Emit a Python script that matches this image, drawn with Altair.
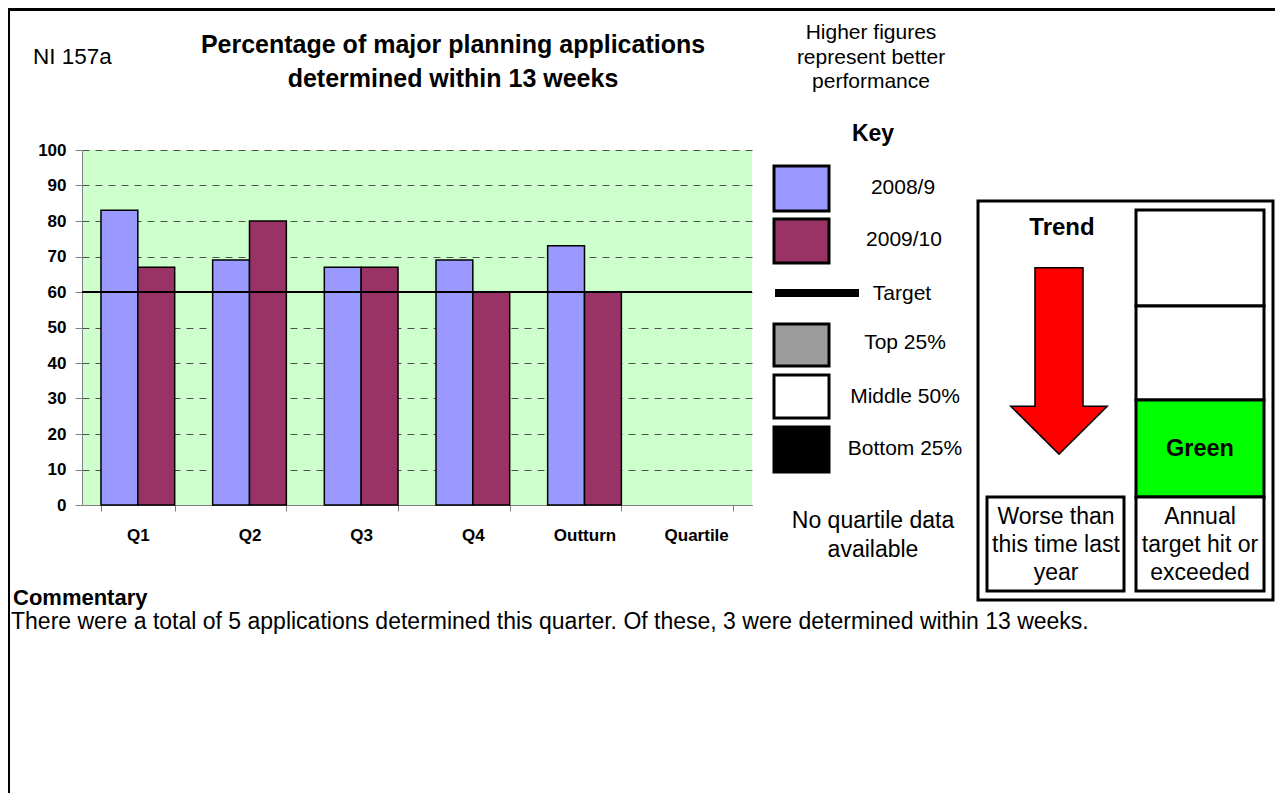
import altair as alt
import pandas as pd

# ---------------- data ----------------
categories = ["Q1", "Q2", "Q3", "Q4", "Outturn", "Quartile"]
series_names = ["2008/9", "2009/10"]
values_2008_9 = [83, 69, 67, 69, 73, None]
values_2009_10 = [67, 80, 67, 60, 60, None]
series_colors = ["#9999FF", "#993366"]
target_value = 60
y_ticks = [0, 10, 20, 30, 40, 50, 60, 70, 80, 90, 100]

rows = []
for cat, a, b in zip(categories, values_2008_9, values_2009_10):
    if a is not None:
        rows.append({"category": cat, "series": series_names[0], "value": a})
    if b is not None:
        rows.append({"category": cat, "series": series_names[1], "value": b})
bars_df = pd.DataFrame(rows)
target_df = pd.DataFrame({"value": [target_value]})

FONT = "Liberation Sans"
OX, OY = 82, 150          # page position of the plot origin
PW, PH = 670, 355         # plot area size
one = pd.DataFrame({"d": [0]})

y_scale = alt.Scale(domain=[0, 100], nice=False)
y_axis = alt.Axis(title=None, values=y_ticks, labelOverlap=False,
                  labelFont=FONT, labelFontSize=17,
                  labelFontWeight="bold", labelColor="black", labelPadding=9,
                  tickSize=7, tickColor="#808080", domainColor="#808080",
                  grid=True, gridDash=[7, 6], gridColor="#505050", gridWidth=1)

# ---------------- main bar chart ----------------
bars = alt.Chart(bars_df).mark_bar(stroke="black", strokeWidth=1.5).encode(
    x=alt.X("category:N",
            scale=alt.Scale(domain=categories, paddingInner=0.34, paddingOuter=0.17),
            axis=alt.Axis(title=None, labelAngle=0, labelFont=FONT, labelFontSize=17,
                          labelFontWeight="bold", labelColor="black", labelPadding=16,
                          tickBand="extent", tickSize=6, tickColor="#808080",
                          domainColor="#808080", grid=False)),
    xOffset=alt.XOffset("series:N", scale=alt.Scale(domain=series_names)),
    y=alt.Y("value:Q", scale=y_scale, axis=y_axis),
    color=alt.Color("series:N", scale=alt.Scale(domain=series_names, range=series_colors),
                    legend=None),
)

target_rule = alt.Chart(target_df).mark_rule(color="black", strokeWidth=2).encode(
    y=alt.Y("value:Q", scale=y_scale, axis=y_axis)
)


# ---------------- decoration helpers (page pixel positions) ----------------
def box(x1, y1, x2, y2, fill, stroke="black", sw=2.5):
    return alt.Chart(one).mark_rect(fill=fill, stroke=stroke, strokeWidth=sw).encode(
        x=alt.value(x1 - OX), x2=alt.value(x2 - OX),
        y=alt.value(y1 - OY), y2=alt.value(y2 - OY))


def txt(x, y, s, size=21, bold=False, align="center"):
    return alt.Chart(one).mark_text(
        font=FONT, fontSize=size, fontWeight="bold" if bold else "normal",
        align=align, baseline="middle", color="black").encode(
        x=alt.value(x - OX), y=alt.value(y - OY), text=alt.value(s))


deco = []
# page borders
deco.append(box(8, 8, 1275, 11, "black", stroke="black", sw=0))
deco.append(box(8, 8, 10, 799, "black", stroke="black", sw=0))

# header texts
deco.append(txt(33, 57, "NI 157a", size=22.5, align="left"))
deco.append(txt(453, 45, "Percentage of major planning applications", size=25, bold=True))
deco.append(txt(453, 79, "determined within 13 weeks", size=25, bold=True))
for yy, s in zip([33, 58, 82], ["Higher figures", "represent better", "performance"]):
    deco.append(txt(871, yy, s, size=21))

# key
deco.append(txt(873, 134, "Key", size=23, bold=True))
deco.append(box(774, 166, 829, 211, series_colors[0], sw=3))
deco.append(box(774, 219, 829, 263, series_colors[1], sw=3))
deco.append(box(775, 289, 859, 297, "black", sw=0))
deco.append(box(774, 324, 829, 366, "#9c9c9c", sw=3))
deco.append(box(774, 375, 829, 418, "white", sw=3))
deco.append(box(774, 427, 829, 472, "black", sw=3))
deco.append(txt(903, 188, "2008/9"))
deco.append(txt(904, 240, "2009/10"))
deco.append(txt(902, 294, "Target"))
deco.append(txt(905, 343, "Top 25%"))
deco.append(txt(905, 397, "Middle 50%"))
deco.append(txt(905, 449, "Bottom 25%"))
deco.append(txt(873, 521, "No quartile data", size=23))
deco.append(txt(873, 550, "available", size=23))

# trend / status panel
deco.append(box(978, 201, 1273, 600, "white", sw=3))
deco.append(box(1136, 210, 1264, 306, "white", sw=3))
deco.append(box(1136, 306, 1264, 400, "white", sw=3))
deco.append(box(1136, 400, 1264, 497, "#00FF00", sw=3))
deco.append(box(1136, 497, 1264, 591, "white", sw=3))
deco.append(box(987, 497, 1124, 591, "white", sw=3))
deco.append(txt(1062, 228, "Trend", size=24, bold=True))
deco.append(txt(1200, 449, "Green", size=23.5, bold=True))
for yy, s in zip([517, 545, 573], ["Worse than", "this time last", "year"]):
    deco.append(txt(1056, yy, s, size=23))
for yy, s in zip([517, 545, 573], ["Annual", "target hit or", "exceeded"]):
    deco.append(txt(1200, yy, s, size=23))

arrow_path = ("M -0.258 -1 L 0.258 -1 L 0.258 0.485 L 0.518 0.485 L 0 1 "
              "L -0.518 0.485 L -0.258 0.485 Z")
deco.append(alt.Chart(one).mark_point(
    shape=arrow_path, size=34700, filled=True, fill="#FF0000", stroke="black",
    strokeWidth=1.5, opacity=1, fillOpacity=1).encode(
    x=alt.value(1059 - OX), y=alt.value(361 - OY)))

# commentary
deco.append(txt(13, 598, "Commentary", size=22, bold=True, align="left"))
deco.append(txt(11, 622, "There were a total of 5 applications determined this quarter. "
                         "Of these, 3 were determined within 13 weeks.", size=23, align="left"))

chart = alt.layer(bars, target_rule, *deco).properties(
    width=PW, height=PH,
    autosize=alt.AutoSizeParams(type="none"),
    padding={"left": OX - 8, "top": OY - 8, "right": 1267 - (OX - 8) - PW,
             "bottom": 785 - (OY - 8) - PH},
    background="white",
).configure_view(fill="#CCFFCC", stroke=None)

chart.save("out.html", embed_options={"renderer": "svg", "actions": False})
